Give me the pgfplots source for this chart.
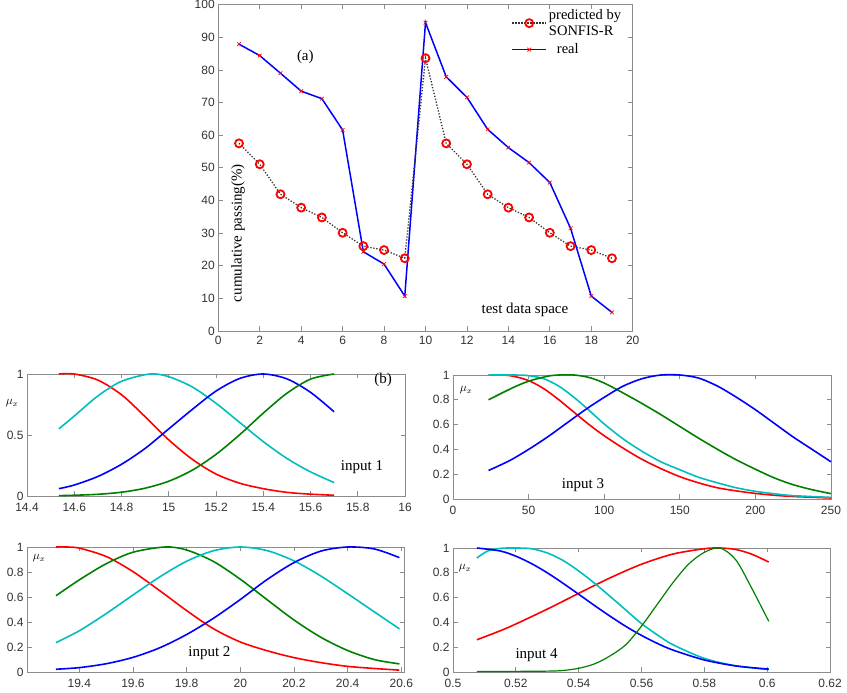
\documentclass[border=0pt]{standalone}
\usepackage{pgfplots}
\pgfplotsset{compat=1.18}
\usepackage{fontspec}
\setmainfont{Liberation Serif}
\newfontfamily\ticksans{Liberation Sans}
\newcommand\tickfont{\ticksans\fontsize{12}{14}\selectfont}
\newcommand\labfont{\fontsize{15}{17}\selectfont}
\newcommand\mufont{\fontsize{12}{14}\selectfont}

\definecolor{mred}{RGB}{255,0,0}
\definecolor{mblue}{RGB}{0,0,255}
\definecolor{mcyan}{RGB}{0,190,190}
\definecolor{mgreen}{RGB}{0,128,0}

\pgfplotsset{
  matframe/.style={
    scale only axis,
    axis line style={black!45, line width=0.7pt},
    tick style={black!45, line width=0.7pt},
    major tick length=4.5pt,
    tick align=inside,
    tick label style={font=\tickfont, text=black!80},
    xticklabel style={yshift=-4pt},
    /pgf/number format/assume math mode=true,
  },
  mf/.style={matframe, clip=false, ymin=0, ymax=1},
  mfc/.style={line width=1.6pt, smooth, no markers},
}

\begin{document}
\begin{tikzpicture}[x=1pt,y=1pt]

% ---------------- (a) test data ----------------
\begin{axis}[matframe,
  at={(218.3pt,362pt)}, anchor=south west,
  width=414.4pt, height=326.3pt,
  xmin=0, xmax=20, ymin=0, ymax=100,
  xtick={0,2,4,6,8,10,12,14,16,18,20},
  ytick={0,10,20,30,40,50,60,70,80,90,100},
  xticklabel style={yshift=2pt},
  reverse legend,
  legend style={draw=none, fill=none, at={(0.707,0.992)}, anchor=north west,
    font=\fontsize{14.5}{16}\selectfont, row sep=3pt, inner sep=0pt,
    cells={anchor=west}},
  legend image code/.code={\draw[mark repeat=2,mark phase=2,#1]
    plot coordinates {(0pt,0pt) (17pt,0pt) (34pt,0pt)};},
]
\addplot[mblue, line width=1.5pt, mark=x, mark size=2.6pt,
  mark options={mred, line width=0.7pt, solid}]
  coordinates {(1,87.9) (2,84.4) (3,79.0) (4,73.5) (5,71.2) (6,61.6) (7,24.3)
    (8,20.5) (9,10.7) (10,94.5) (11,77.9) (12,71.6) (13,61.8) (14,56.2)
    (15,51.6) (16,45.5) (17,31.5) (18,10.7) (19,5.7)};
\addlegendentry{\hspace{8pt}real}
\addplot[black!80, line width=1.3pt, dash pattern=on 1.3pt off 1.7pt,
  mark=o, mark size=4pt, mark options={mred, line width=1.8pt, solid}]
  coordinates {(1,57.5) (2,51.1) (3,41.9) (4,37.8) (5,34.8) (6,30.1) (7,26.0)
    (8,24.8) (9,22.3) (10,83.6) (11,57.5) (12,51.1) (13,41.9) (14,37.8)
    (15,34.8) (16,30.1) (17,26.0) (18,24.8) (19,22.3)};
\addlegendentry{\shortstack[l]{predicted by\\SONFIS-R}}
\node[font=\labfont, rotate=90] at (axis cs:0.95,30) {cumulative passing(\%)};
\node[font=\labfont] at (axis cs:14.8,6.4) {test data space};
\node[font=\labfont] at (axis cs:4.2,84) {(a)};
\end{axis}

% ---------------- input 1 ----------------
\begin{axis}[mf,
  at={(27pt,197pt)}, anchor=south west,
  width=378pt, height=122pt,
  xmin=14.4, xmax=16,
  xtick={14.4,14.6,14.8,15,15.2,15.4,15.6,15.8,16},
  ytick={0,0.5,1},
]
\addplot[mfc, mred] coordinates {(14.535,1) (14.6,1) (14.7,0.95) (14.8,0.83)
  (14.9,0.65) (15.0,0.46) (15.1,0.30) (15.2,0.18) (15.3,0.105) (15.4,0.06)
  (15.5,0.03) (15.6,0.015) (15.70,0.006)};
\addplot[mfc, mcyan] coordinates {(14.535,0.55) (14.6,0.655) (14.7,0.82)
  (14.8,0.94) (14.92,1) (15.0,0.978) (15.1,0.893)
  (15.2,0.76) (15.3,0.603) (15.4,0.446) (15.5,0.308) (15.6,0.198) (15.70,0.11)};
\addplot[mfc, mblue] coordinates {(14.535,0.06) (14.6,0.09) (14.7,0.16)
  (14.8,0.26) (14.9,0.39) (15.0,0.55) (15.1,0.71) (15.2,0.86) (15.3,0.963)
  (15.4,1) (15.5,0.96) (15.6,0.85) (15.70,0.69)};
\addplot[mfc, mgreen] coordinates {(14.535,0.003) (14.6,0.006) (14.7,0.014)
  (14.8,0.031) (14.9,0.064) (15.0,0.121) (15.1,0.212) (15.2,0.341)
  (15.3,0.502) (15.4,0.679) (15.5,0.842) (15.6,0.958) (15.70,1)};
\node[font=\labfont] at (axis cs:15.818,0.238) {input 1};
\end{axis}

% ---------------- input 3 ----------------
\begin{axis}[mf,
  at={(453pt,194pt)}, anchor=south west,
  width=378pt, height=124pt,
  xmin=0, xmax=250,
  xtick={0,50,100,150,200,250},
  ytick={0,0.2,0.4,0.6,0.8,1},
]
\addplot[mfc, mred] coordinates {(23.5,1) (33,1) (40,0.99) (50,0.955)
  (60,0.89) (70,0.80) (80,0.70) (90,0.60) (100,0.51) (112.5,0.41) (125,0.32)
  (137.5,0.245) (150,0.18) (162.5,0.13) (175,0.09) (187.5,0.065) (200,0.045)
  (212.5,0.03) (225,0.02) (250,0.008)};
\addplot[mfc, mcyan] coordinates {(23.5,1) (40,1) (50,0.995) (60,0.97)
  (70,0.91) (80,0.82) (90,0.715) (100,0.605) (112.5,0.485)
  (125,0.385) (137.5,0.30) (150,0.236) (162.5,0.175) (175,0.13) (187.5,0.09)
  (200,0.062) (212.5,0.042) (225,0.027) (250,0.013)};
\addplot[mfc, mgreen] coordinates {(23.5,0.80) (30,0.84) (40,0.90) (50,0.95)
  (62.5,0.99) (70,1) (80,1) (90,0.98) (100,0.935) (112.5,0.855) (125,0.77)
  (137.5,0.68) (150,0.585) (162.5,0.49) (175,0.40) (187.5,0.315) (200,0.24)
  (212.5,0.17) (225,0.115) (237.5,0.075) (250,0.043)};
\addplot[mfc, mblue] coordinates {(23.5,0.23) (37.5,0.31) (50,0.40)
  (62.5,0.50) (75,0.61) (87.5,0.72) (100,0.82) (112.5,0.91) (125,0.97)
  (137.5,1) (150,1) (162.5,0.975) (175,0.91) (187.5,0.82) (200,0.72)
  (212.5,0.61) (225,0.50) (237.5,0.40) (250,0.30)};
\node[font=\labfont] at (axis cs:86,0.113) {input 3};
\end{axis}

% ---------------- input 2 ----------------
\begin{axis}[mf,
  at={(27pt,21pt)}, anchor=south west,
  width=377pt, height=125pt,
  xmin=19.205, xmax=20.61,
  xtick={19.4,19.6,19.8,20,20.2,20.4,20.6},
  ytick={0,0.2,0.4,0.6,0.8,1},
]
\addplot[mfc, mred] coordinates {(19.313,1) (19.35,1) (19.4,0.991)
  (19.5,0.924) (19.6,0.803) (19.7,0.65) (19.8,0.491) (19.9,0.346) (20.0,0.24)
  (20.1,0.17) (20.2,0.115) (20.3,0.075) (20.4,0.045) (20.5,0.028) (20.593,0.015)};
\addplot[mfc, mgreen] coordinates {(19.313,0.61) (19.4,0.737) (19.5,0.866)
  (19.6,0.958) (19.72,1) (19.8,0.976) (19.9,0.884) (20.0,0.742)
  (20.1,0.578) (20.2,0.416) (20.3,0.278) (20.4,0.172) (20.5,0.099) (20.593,0.065)};
\addplot[mfc, mcyan] coordinates {(19.313,0.235) (19.4,0.33) (19.5,0.467)
  (19.6,0.616) (19.7,0.761) (19.8,0.886) (19.9,0.970) (20.0,1) (20.1,0.971)
  (20.2,0.889) (20.3,0.768) (20.4,0.626) (20.5,0.48) (20.593,0.345)};
\addplot[mfc, mblue] coordinates {(19.313,0.022) (19.4,0.035) (19.5,0.066)
  (19.6,0.117) (19.7,0.194) (19.8,0.30) (19.9,0.43) (20.0,0.58)
  (20.1,0.74) (20.2,0.875) (20.3,0.967) (20.4,1) (20.5,0.984) (20.593,0.915)};
\node[font=\labfont] at (axis cs:19.885,0.152) {input 2};
\end{axis}

% ---------------- input 4 ----------------
\begin{axis}[mf,
  at={(453pt,21pt)}, anchor=south west,
  width=377pt, height=124pt,
  xmin=0.5, xmax=0.62,
  xtick={0.5,0.52,0.54,0.56,0.58,0.6,0.62},
  ytick={0,0.2,0.4,0.6,0.8,1},
]
\addplot[mfc, mred] coordinates {(0.5076,0.26) (0.515,0.332) (0.52,0.387)
  (0.53,0.507) (0.54,0.634) (0.55,0.759) (0.56,0.869) (0.57,0.951)
  (0.58,0.994) (0.585,1) (0.59,0.988) (0.595,0.951) (0.6005,0.887)};
\addplot[mfc, mcyan] coordinates {(0.5076,0.919) (0.511,0.975) (0.515,0.997)
  (0.52,1) (0.525,0.994) (0.53,0.96) (0.535,0.90) (0.54,0.815) (0.545,0.717)
  (0.55,0.61) (0.555,0.50) (0.56,0.39) (0.565,0.30) (0.57,0.22) (0.58,0.11)
  (0.59,0.05) (0.6005,0.02)};
\addplot[mfc, mblue] coordinates {(0.5076,1) (0.515,0.976) (0.52,0.934)
  (0.525,0.874) (0.53,0.80) (0.535,0.716) (0.54,0.627) (0.545,0.537)
  (0.55,0.45) (0.555,0.368) (0.56,0.295) (0.565,0.231) (0.57,0.177)
  (0.58,0.097) (0.59,0.049) (0.6005,0.023)};
\addplot[mfc, mgreen, line width=1.2pt] coordinates {(0.5076,0.004) (0.52,0.005)
  (0.53,0.007) (0.535,0.012) (0.54,0.03) (0.545,0.065) (0.55,0.13)
  (0.555,0.22) (0.56,0.37) (0.565,0.545) (0.57,0.72) (0.575,0.87)
  (0.58,0.965) (0.585,1) (0.59,0.905) (0.595,0.68) (0.6005,0.409)};
\node[font=\labfont] at (axis cs:0.5266,0.137) {input 4};
\end{axis}

% panel labels and membership symbols
\node[font=\labfont] at (383,313) {(b)};
\node[font=\mufont] at (12,290) {$\mu_x$};
\node[font=\mufont] at (466,303) {$\mu_x$};
\node[font=\mufont] at (39,135) {$\mu_x$};
\node[font=\mufont] at (465,125) {$\mu_x$};

\pgfresetboundingbox
\path[use as bounding box] (0,0) rectangle (847,693);
\end{tikzpicture}
\end{document}
